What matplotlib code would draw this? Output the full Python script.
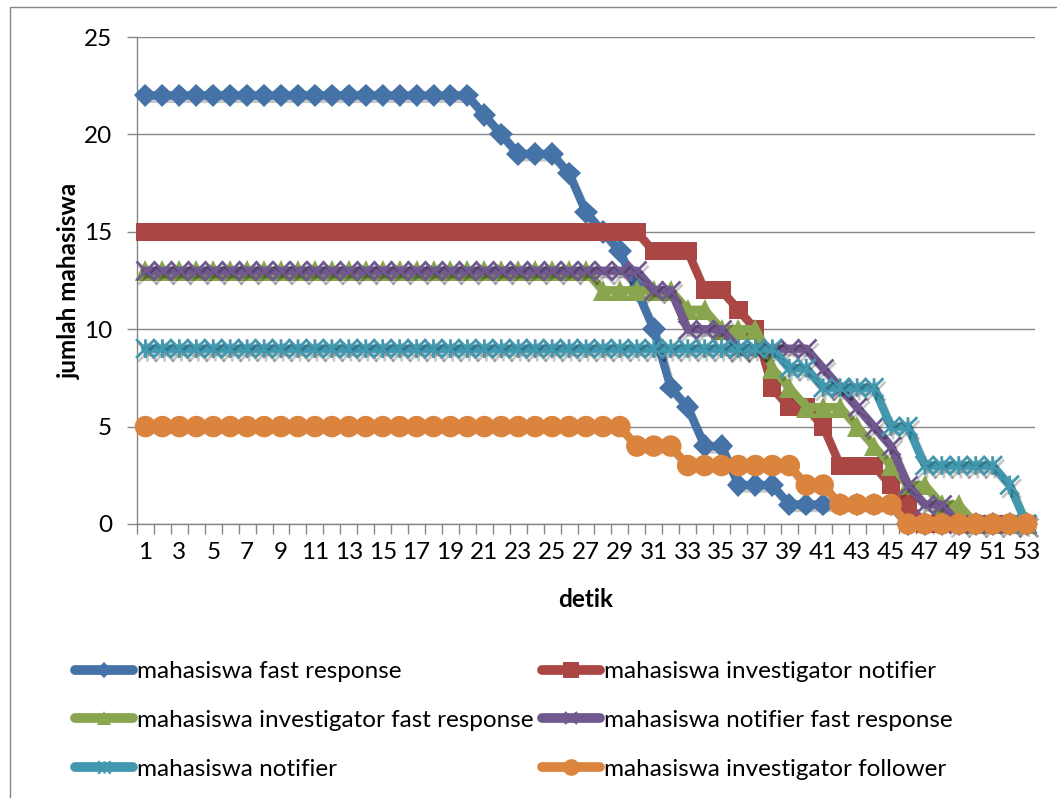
import numpy as np
import matplotlib
matplotlib.use("Agg")
import matplotlib.pyplot as plt
import matplotlib.patheffects as pe
from matplotlib.path import Path
from matplotlib.lines import Line2D
from matplotlib.patches import Rectangle

plt.rcParams['font.family'] = ['Lato', 'DejaVu Sans']

# detik (kategori 1..53)
detik = list(range(1, 54))

fast_response = [22, 22, 22, 22, 22, 22, 22, 22, 22, 22, 22, 22, 22, 22, 22, 22, 22, 22, 22, 22,
                 21, 20, 19, 19, 19, 18, 16, 15, 14, 12, 10, 7, 6, 4, 4, 2, 2, 2, 1, 1,
                 1, 1, 1, 1, 1, 0, 0, 0, 0, 0, 0, 0, 0]
inv_notifier = [15, 15, 15, 15, 15, 15, 15, 15, 15, 15, 15, 15, 15, 15, 15, 15, 15, 15, 15, 15,
                15, 15, 15, 15, 15, 15, 15, 15, 15, 15, 14, 14, 14, 12, 12, 11, 10, 7, 6, 6,
                5, 3, 3, 3, 2, 1, 0, 0, 0, 0, 0, 0, 0]
inv_fast = [13, 13, 13, 13, 13, 13, 13, 13, 13, 13, 13, 13, 13, 13, 13, 13, 13, 13, 13, 13,
            13, 13, 13, 13, 13, 13, 13, 12, 12, 12, 12, 12, 11, 11, 10, 10, 10, 8, 7, 6,
            6, 6, 5, 4, 3, 2, 2, 1, 1, 0, 0, 0, 0]
notif_fast = [13, 13, 13, 13, 13, 13, 13, 13, 13, 13, 13, 13, 13, 13, 13, 13, 13, 13, 13, 13,
              13, 13, 13, 13, 13, 13, 13, 13, 13, 13, 12, 12, 10, 10, 10, 9, 9, 9, 9, 9,
              8, 7, 6, 5, 4, 2, 1, 1, 0, 0, 0, 0, 0]
notifier = [9, 9, 9, 9, 9, 9, 9, 9, 9, 9, 9, 9, 9, 9, 9, 9, 9, 9, 9, 9,
            9, 9, 9, 9, 9, 9, 9, 9, 9, 9, 9, 9, 9, 9, 9, 9, 9, 9, 8, 8,
            7, 7, 7, 7, 5, 5, 3, 3, 3, 3, 3, 2, 0]
inv_follower = [5, 5, 5, 5, 5, 5, 5, 5, 5, 5, 5, 5, 5, 5, 5, 5, 5, 5, 5, 5,
                5, 5, 5, 5, 5, 5, 5, 5, 5, 4, 4, 4, 3, 3, 3, 3, 3, 3, 3, 2,
                2, 1, 1, 1, 1, 0, 0, 0, 0, 0, 0, 0, 0]

labels = ['mahasiswa fast response', 'mahasiswa investigator notifier',
          'mahasiswa investigator fast response', 'mahasiswa notifier fast response',
          'mahasiswa notifier', 'mahasiswa investigator follower']
colors = ['#4572A7', '#AA4643', '#89A54E', '#71588F', '#4198AF', '#DB843D']

# penanda bintang ala Excel (X + garis vertikal)
star = Path([(0, -1), (0, 1), (-1, -1), (1, 1), (-1, 1), (1, -1)],
            [Path.MOVETO, Path.LINETO] * 3)

gaya = [
    dict(marker='D', ms=12, mew=0),
    dict(marker='s', ms=13, mew=0),
    dict(marker='^', ms=15, mew=0),
    dict(marker='x', ms=13.5, mew=2),
    dict(marker=star, ms=13.5, mew=2),
    dict(marker='o', ms=15.5, mew=0),
]
gaya_leg = [
    dict(marker='D', ms=8, mew=0),
    dict(marker='s', ms=12, mew=0),
    dict(marker='^', ms=10, mew=0),
    dict(marker='x', ms=9, mew=1.6),
    dict(marker=star, ms=9, mew=1.6),
    dict(marker='o', ms=12, mew=0),
]

W, H = 1057, 798
fs = 17.5
fig = plt.figure(figsize=(W / 100, H / 100), dpi=100)
ax = fig.add_axes([137 / W, 1 - 524 / H, (1035 - 137) / W, (524 - 37) / H])

semua = [fast_response, inv_notifier, inv_fast, notif_fast, notifier, inv_follower]
bayangan = [pe.SimpleLineShadow(offset=(1.5, -2.5), shadow_color='black', alpha=0.22), pe.Normal()]
for i, (data, c) in enumerate(zip(semua, colors)):
    ax.plot(detik, data, color=c, lw=6, mfc=c, mec=c, solid_joinstyle='round',
            path_effects=bayangan, zorder=3 + i, clip_on=False, **gaya[i])

ax.set_xlim(0.5, 53.5)
ax.set_ylim(0, 25)
ax.set_yticks([0, 5, 10, 15, 20, 25])
ax.set_xticks(detik[::2])
ax.set_xticks(np.arange(0.5, 54, 1.0), minor=True)
ax.tick_params(axis='x', which='major', length=0, pad=13, labelsize=fs)
ax.tick_params(axis='x', which='minor', length=7, width=1, color='#868686', direction='out')
ax.tick_params(axis='y', length=7, width=1, color='#868686', pad=11, labelsize=fs)
ax.grid(axis='y', color='#868686', lw=1)
ax.set_axisbelow(True)
for s in ['top', 'right']:
    ax.spines[s].set_visible(False)
for s in ['left', 'bottom']:
    ax.spines[s].set_color('#868686')
    ax.spines[s].set_linewidth(1)

ax.set_xlabel('detik', fontsize=fs, fontweight='bold', labelpad=18)
ax.set_ylabel('jumlah mahasiswa', fontsize=fs, fontweight='bold', labelpad=2)

# legenda 2 kolom (urutan per baris seperti Excel)
handles = [Line2D([], [], color=c, lw=7, mfc=c, mec=c, solid_capstyle='round', **g)
           for c, g in zip(colors, gaya_leg)]
urut = [0, 2, 4, 1, 3, 5]
fig.legend([handles[k] for k in urut], [labels[k] for k in urut], ncol=2,
           loc='upper left', bbox_to_anchor=(75 / W, 1 - 661 / H), frameon=False,
           fontsize=fs, handlelength=2.4, handletextpad=0.15, columnspacing=0.35,
           labelspacing=1.15, borderpad=0, borderaxespad=0)

# bingkai area grafik
fig.patches.append(Rectangle((10 / W, -0.1), 1.2, 1.1 - 7 / H, transform=fig.transFigure,
                             fill=False, edgecolor='#868686', lw=1))

fig.savefig('out.png', dpi=100)
